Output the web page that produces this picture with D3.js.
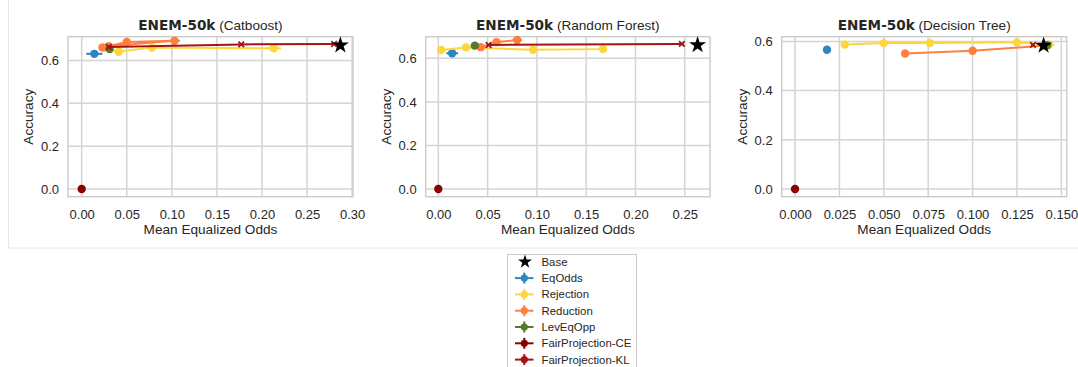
<!DOCTYPE html>
<html>
<head>
<meta charset="utf-8">
<script src="https://cdn.jsdelivr.net/npm/d3@7"></script>
<style>
  body { margin: 0; background: #fff; }
  text { font-family: "Liberation Sans", Arial, sans-serif; fill: #262626; }
</style>
</head>
<body>
<div id="chart"></div>
<script>
// methods, in legend order
const methods = ['Base', 'EqOdds', 'Rejection', 'Reduction', 'LevEqOpp', 'FairProjection-CE', 'FairProjection-KL']
const colors = ['#000000', '#2e86c1', '#ffd53d', '#ff7f3f', '#557a2a', '#8b0000', '#a31515']

const panelTitles = ['Catboost', 'Random Forest', 'Decision Tree']

// rows: method, mean equalized odds, accuracy, x error, y error
const catboostRows = [
  ['EqOdds', 0.014, 0.631, 0.009, 0.006],
  ['Rejection', 0.025, 0.659, 0.004, 0.014],
  ['Rejection', 0.041, 0.641, 0.004, 0.014],
  ['Rejection', 0.078, 0.660, 0.003, 0.014],
  ['Rejection', 0.213, 0.657, 0.008, 0.014],
  ['Reduction', 0.023, 0.661, 0.003, 0.010],
  ['Reduction', 0.050, 0.686, 0.003, 0.010],
  ['Reduction', 0.103, 0.692, 0.006, 0.010],
  ['Reduction', 0.030, 0.667, 0.003, 0.010],
  ['LevEqOpp', 0.031, 0.654, 0.002, 0.004],
  ['FairProjection-CE', 0.0, 0.0, 0.0, 0.0],
  ['FairProjection-KL', 0.030, 0.663, 0.002, 0.004],
  ['FairProjection-KL', 0.177, 0.675, 0.002, 0.004],
  ['FairProjection-KL', 0.280, 0.677, 0.002, 0.004],
  ['Base', 0.287, 0.671, 0, 0]
]

const forestRows = [
  ['EqOdds', 0.014, 0.623, 0.006, 0.005],
  ['Rejection', 0.003, 0.638, 0.002, 0.014],
  ['Rejection', 0.028, 0.650, 0.002, 0.014],
  ['Rejection', 0.096, 0.639, 0.002, 0.014],
  ['Rejection', 0.167, 0.642, 0.002, 0.014],
  ['Reduction', 0.043, 0.651, 0.004, 0.008],
  ['Reduction', 0.059, 0.674, 0.003, 0.008],
  ['Reduction', 0.080, 0.684, 0.005, 0.008],
  ['LevEqOpp', 0.037, 0.658, 0.002, 0.004],
  ['FairProjection-CE', 0.0, 0.0, 0.0, 0.0],
  ['FairProjection-KL', 0.051, 0.661, 0.002, 0.004],
  ['FairProjection-KL', 0.247, 0.666, 0.002, 0.004],
  ['Base', 0.263, 0.661, 0, 0]
]

const treeRows = [
  ['EqOdds', 0.018, 0.566, 0.001, 0.004],
  ['Rejection', 0.028, 0.587, 0.001, 0.014],
  ['Rejection', 0.050, 0.593, 0.001, 0.014],
  ['Rejection', 0.076, 0.593, 0.001, 0.014],
  ['Rejection', 0.125, 0.596, 0.001, 0.014],
  ['Rejection', 0.143, 0.586, 0.003, 0.006],
  ['Reduction', 0.062, 0.551, 0.001, 0.008],
  ['Reduction', 0.100, 0.562, 0.001, 0.008],
  ['Reduction', 0.141, 0.583, 0.003, 0.006],
  ['LevEqOpp', 0.142, 0.584, 0.001, 0.004],
  ['FairProjection-CE', 0.0, 0.0, 0.0, 0.0],
  ['FairProjection-KL', 0.134, 0.586, 0.001, 0.004],
  ['Base', 0.140, 0.583, 0, 0]
]

const xTicks1 = [0, 0.05, 0.10, 0.15, 0.20, 0.25, 0.30]
const xTicks2 = [0, 0.05, 0.10, 0.15, 0.20, 0.25]
const xTicks3 = [0, 0.025, 0.05, 0.075, 0.10, 0.125, 0.15]
const yTicks = [0, 0.2, 0.4, 0.6]

const panels = [
  {rows: catboostRows, box: [68, 353], xDom: [-0.0152, 0.301], yDom: [-0.036, 0.711], ticks: xTicks1, fmt: '.2f'},
  {rows: forestRows, box: [425.7, 710], xDom: [-0.0128, 0.2756], yDom: [-0.035, 0.699], ticks: xTicks2, fmt: '.2f'},
  {rows: treeRows, box: [781.7, 1066.7], xDom: [-0.0075, 0.153], yDom: [-0.031, 0.619], ticks: xTicks3, fmt: '.3f'}
]

const plotTop = 36.7, plotBottom = 196.7
const color = d3.scaleOrdinal(methods, colors)

const svg = d3.select('#chart')
  .append('svg')
  .attr('width', 1078)
  .attr('height', 367)

// faint figure border
svg.append('rect')
  .attr('x', 8.5).attr('y', -2)
  .attr('width', 1080).attr('height', 250)
  .attr('fill', 'none')
  .attr('stroke', '#e6e6e6')

panels.forEach((p, i) => {
  const x = d3.scaleLinear().domain(p.xDom).range(p.box)
  const y = d3.scaleLinear().domain(p.yDom).range([plotBottom, plotTop])
  const g = svg.append('g')

  // grid
  g.selectAll('.vg').data(p.ticks).enter().append('line')
    .attr('x1', d => x(d)).attr('x2', d => x(d))
    .attr('y1', plotTop).attr('y2', plotBottom)
    .attr('stroke', '#d4d4d4').attr('stroke-width', 1.5)
  g.selectAll('.hg').data(yTicks).enter().append('line')
    .attr('y1', d => y(d)).attr('y2', d => y(d))
    .attr('x1', p.box[0]).attr('x2', p.box[1])
    .attr('stroke', '#d4d4d4').attr('stroke-width', 1.5)

  g.append('rect')
    .attr('x', p.box[0]).attr('y', plotTop)
    .attr('width', p.box[1] - p.box[0]).attr('height', plotBottom - plotTop)
    .attr('fill', 'none').attr('stroke', '#cccccc').attr('stroke-width', 1.5)

  // axes via d3 axis, styled like seaborn whitegrid
  const xAxis = g.append('g')
    .attr('transform', `translate(0, ${plotBottom})`)
    .call(d3.axisBottom(x).tickValues(p.ticks).tickFormat(d3.format(p.fmt)).tickSize(0).tickPadding(13))
  const yAxis = g.append('g')
    .attr('transform', `translate(${p.box[0]}, 0)`)
    .call(d3.axisLeft(y).tickValues(yTicks).tickFormat(d3.format('.1f')).tickSize(0).tickPadding(9))
  ;[xAxis, yAxis].forEach(a => {
    a.select('.domain').remove()
    a.selectAll('text').attr('font-size', '13px').attr('fill', '#262626')
      .attr('font-family', '"Liberation Sans", Arial, sans-serif')
  })

  g.append('text')
    .attr('x', (p.box[0] + p.box[1]) / 2).attr('y', 234)
    .attr('text-anchor', 'middle').attr('font-size', '13.6px')
    .text('Mean Equalized Odds')
  g.append('text')
    .attr('transform', `translate(${p.box[0] - 39.5}, ${(plotTop + plotBottom) / 2}) rotate(-90)`)
    .attr('text-anchor', 'middle').attr('dominant-baseline', 'central')
    .attr('font-size', '13.6px')
    .text('Accuracy')

  const title = g.append('text')
    .attr('x', (p.box[0] + p.box[1]) / 2).attr('y', 30)
    .attr('text-anchor', 'middle').attr('font-size', '13.6px')
  title.append('tspan').attr('font-family', '"DejaVu Sans", sans-serif')
    .attr('font-weight', 'bold').text('ENEM-50k')
  title.append('tspan').text(' (' + panelTitles[i] + ')')

  const line = d3.line().x(d => x(d[1])).y(d => y(d[2]))
  const groups = d3.group(p.rows, d => d[0])

  methods.slice(1).concat(['Base']).forEach(m => {
    const pts = groups.get(m)
    if (!pts) return
    const c = color(m)
    const mg = g.append('g')
    if (m === 'Base') {
      mg.selectAll('path').data(pts).enter().append('path')
        .attr('d', d3.symbol(d3.symbolStar, 90))
        .attr('transform', d => `translate(${x(d[1])}, ${y(d[2])})`)
        .attr('fill', c)
      return
    }
    mg.append('path').datum(pts)
      .attr('d', line).attr('fill', 'none')
      .attr('stroke', c).attr('stroke-width', 2)
    // error bars
    mg.selectAll('.ex').data(pts).enter().append('line')
      .attr('x1', d => x(d[1] - d[3])).attr('x2', d => x(d[1] + d[3]))
      .attr('y1', d => y(d[2])).attr('y2', d => y(d[2]))
      .attr('stroke', c).attr('stroke-width', 2)
    mg.selectAll('.ey').data(pts).enter().append('line')
      .attr('x1', d => x(d[1])).attr('x2', d => x(d[1]))
      .attr('y1', d => y(d[2] - d[4])).attr('y2', d => y(d[2] + d[4]))
      .attr('stroke', c).attr('stroke-width', 2)
    if (m === 'FairProjection-KL') {
      mg.selectAll('.mk').data(pts).enter().append('path')
        .attr('d', d3.symbol(d3.symbolX, 22))
        .attr('transform', d => `translate(${x(d[1])}, ${y(d[2])})`)
        .attr('fill', 'none').attr('stroke', c).attr('stroke-width', 1.8)
    } else {
      mg.selectAll('.mk').data(pts).enter().append('circle')
        .attr('cx', d => x(d[1])).attr('cy', d => y(d[2]))
        .attr('r', 4.2).attr('fill', c)
    }
  })
})

// legend
const lg = svg.append('g').attr('transform', 'translate(507.5, 254.5)')
lg.append('rect')
  .attr('width', 129).attr('height', 130)
  .attr('fill', '#fff').attr('stroke', '#cccccc')

methods.forEach((m, i) => {
  const yy = 7.3 + i * 16.3
  const c = color(m)
  const row = lg.append('g').attr('transform', `translate(0, ${yy})`)
  if (m === 'Base') {
    row.append('path').attr('d', d3.symbol(d3.symbolStar, 60))
      .attr('transform', 'translate(17.5, 0)').attr('fill', c)
  } else {
    row.append('line').attr('x1', 7.5).attr('x2', 26).attr('stroke', c).attr('stroke-width', 2)
    row.append('line').attr('x1', 16.8).attr('x2', 16.8).attr('y1', -5.5).attr('y2', 5.5)
      .attr('stroke', c).attr('stroke-width', 2)
    row.append('circle').attr('cx', 16.8).attr('r', 3.6).attr('fill', c)
  }
  row.append('text')
    .attr('x', 34).attr('dominant-baseline', 'central')
    .attr('font-size', '11.4px')
    .text(m)
})
</script>
</body>
</html>
